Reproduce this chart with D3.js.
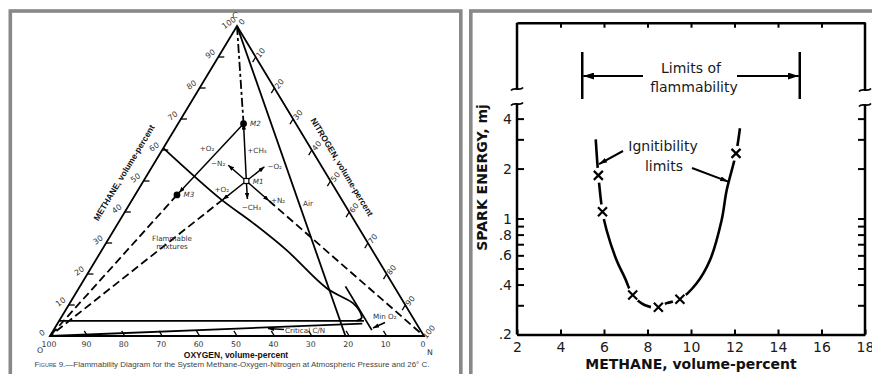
<!DOCTYPE html>
<html>
<head>
<meta charset="utf-8">
<script src="https://cdn.jsdelivr.net/npm/d3@7"></script>
<style>
  html, body { margin: 0; padding: 0; background: #fff; }
  svg { display: block; }
</style>
</head>
<body>
<div id="chart"></div>
<script>
// ---------- LEFT PANEL DATA (volume-percent) ----------
const ternaryTicks = [10, 20, 30, 40, 50, 60, 70, 80, 90];
const ternaryLabels = [0, 10, 20, 30, 40, 50, 60, 70, 80, 90, 100];
// flammability boundary, [methane, nitrogen]
const upperLimit = [[60.6, 0], [44.4, 23.2], [36.5, 36.0], [27.7, 49.4], [15.4, 66.3], [10.6, 75.7], [7.8, 79.0], [5.8, 80.4], [4.9, 79.5]];
const lowerLimit = [[4.9, 0], [4.9, 81.5]];
const criticalLine = [[0, 0], [4.0, 81.5]];
const minO2Line = [[16, 71], [1.9, 85.1]];
const airLine = [[100, 0], [0, 79]];
// mixtures
const mixNames = ['M1', 'M2', 'M3'];
const mixMethane = [50, 68.5, 45.5];
const mixNitrogen = [27.5, 17.5, 11.2];

// ---------- RIGHT PANEL DATA ----------
const xTicks = [2, 4, 6, 8, 10, 12, 14, 16, 18];
const yTicks = [0.2, 0.3, 0.4, 0.5, 0.6, 0.7, 0.8, 0.9, 1, 2, 3, 4];
const yTickLabels = ['.2', '', '.4', '', '.6', '', '.8', '', '1', '2', '', '4'];
const curveMethane = [5.62, 5.74, 5.93, 6.12, 6.58, 6.97, 7.32, 7.89, 8.5, 8.88, 9.49, 10.26, 10.87, 11.41, 11.64, 12.07, 12.25];
const curveEnergy = [3.0, 1.82, 1.1, 0.85, 0.56, 0.436, 0.346, 0.30, 0.292, 0.309, 0.326, 0.407, 0.56, 0.98, 1.48, 2.47, 3.5];
const sparkMethane = [5.74, 5.93, 7.32, 8.5, 9.49, 12.07];
const sparkEnergy = [1.82, 1.1, 0.346, 0.292, 0.326, 2.47];
const flammLimits = [5, 15];
const ignitPointers = [[5.77, 2.13], [11.71, 1.67]];

const svg = d3.select('#chart').append('svg')
  .attr('width', 872).attr('height', 374)
  .style('font-family', "'DejaVu Sans', Verdana, sans-serif");

// ----------- MARKERS ------------
const defs = svg.append('defs');
function addArrow(id, len, wid) {
  defs.append('marker').attr('id', id)
    .attr('viewBox', `0 ${-wid / 2} ${len} ${wid}`)
    .attr('refX', len).attr('refY', 0)
    .attr('markerWidth', len).attr('markerHeight', wid)
    .attr('markerUnits', 'userSpaceOnUse').attr('orient', 'auto')
    .append('path').attr('d', `M0,${-wid / 2}L${len},0L0,${wid / 2}Z`).attr('fill', '#000');
}
addArrow('arrowSmall', 6, 4.5);
addArrow('arrowMid', 8, 5);
addArrow('arrowBig', 11, 7);

// ----------- FRAMES ------------
svg.append('rect').attr('x', 10.3).attr('y', 11).attr('width', 450.5).attr('height', 390)
  .attr('fill', 'none').attr('stroke', '#888').attr('stroke-width', 3.6);
svg.append('rect').attr('x', 470.8).attr('y', 11).attr('width', 420).attr('height', 390)
  .attr('fill', 'none').attr('stroke', '#888').attr('stroke-width', 3.6);

// =========== LEFT PANEL: TERNARY ===========
const vO = [50, 336], vC = [237, 26], vN = [424, 336];
const ternY = d3.scaleLinear().domain([0, 100]).range([vO[1], vC[1]]);
const ternShift = d3.scaleLinear().domain([0, 100]).range([0, vC[0] - vO[0]]);
const ternX = d3.scaleLinear().domain([0, 100]).range([vO[0], vN[0]]);
const tern = (ch4, n2) => [ternX(n2) + ternShift(ch4), ternY(ch4)];
const unit = (a, b) => { const dx = b[0] - a[0], dy = b[1] - a[1], l = Math.hypot(dx, dy); return [dx / l, dy / l]; };
const along = (p, u, d) => [p[0] + u[0] * d, p[1] + u[1] * d];

const tg = svg.append('g').attr('class', 'ternary');
const pline = d3.line();

// triangle
tg.append('path').attr('d', pline([tern(0, 0), tern(100, 0), tern(0, 100)]) + 'Z')
  .attr('fill', 'none').attr('stroke', '#000').attr('stroke-width', 1.8).attr('stroke-linejoin', 'miter');

// ticks
const dirMeth = [1, 0], dirOxy = unit(vN, vC), dirNit = unit(vC, vO);
ternaryTicks.forEach(t => {
  [[tern(t, 0), dirMeth], [tern(0, 100 - t), dirOxy], [tern(100 - t, t), dirNit]].forEach(([p, u]) => {
    tg.append('path').attr('d', pline([p, along(p, u, 6)]))
      .attr('stroke', '#000').attr('stroke-width', 1.3);
  });
});

// tick labels
const tickText = { 'font-size': 7.8, fill: '#333', 'text-anchor': 'middle', 'dominant-baseline': 'central' };
function styled(sel, o) { Object.entries(o).forEach(([k, v]) => sel.attr(k, v)); return sel; }
ternaryLabels.forEach(t => {
  const pm = tern(t, 0);
  styled(tg.append('text'), tickText).attr('transform', `translate(${pm[0] - 8},${pm[1] - 3}) rotate(-35)`).text(t);
  const pn = tern(100 - t, t);
  styled(tg.append('text'), tickText).attr('transform', `translate(${pn[0] + 5},${pn[1] - 4}) rotate(-50)`).text(t);
  const po = tern(0, 100 - t);
  styled(tg.append('text'), tickText).attr('x', po[0] - 1).attr('y', po[1] + 8).text(t);
});
// vertex letters
[['C', tern(100, 0), -2, -11], ['O', tern(0, 0), -10, 14], ['N', tern(0, 100), 6, 16]].forEach(([s, p, dx, dy]) => {
  styled(tg.append('text'), tickText).attr('x', p[0] + dx).attr('y', p[1] + dy).text(s);
});

// axis titles
const titleText = { 'font-size': 8.5, 'font-weight': 'bold', 'font-family': "'Liberation Sans', Arial, sans-serif",
  fill: '#111', 'text-anchor': 'middle', 'dominant-baseline': 'central' };
{
  const mid = tern(50, 0);
  const nrm = [-0.856, -0.516];
  styled(tg.append('text'), titleText)
    .attr('transform', `translate(${mid[0] + nrm[0] * 21 - 0.516 * 3},${mid[1] + nrm[1] * 21 + 0.856 * 3}) rotate(-58.9)`)
    .text('METHANE, volume-percent');
  const midR = tern(50, 50);
  styled(tg.append('text'), titleText)
    .attr('transform', `translate(${midR[0] + 0.856 * 17 - 0.516 * 6},${midR[1] - 0.516 * 17 - 0.856 * 6}) rotate(58.9)`)
    .text('NITROGEN, volume-percent');
  styled(tg.append('text'), titleText).attr('x', 236).attr('y', 355).text('OXYGEN, volume-percent');
}

// caption
const cap = tg.append('text').attr('x', 232).attr('y', 367).attr('text-anchor', 'middle')
  .attr('font-size', 7.4).attr('fill', '#444').attr('font-family', "'Liberation Sans', Arial, sans-serif")
  .attr('textLength', 395).attr('lengthAdjust', 'spacingAndGlyphs');
cap.append('tspan').style('font-variant', 'small-caps').text('Figure');
cap.append('tspan').text(' 9.—Flammability Diagram for the System Methane-Oxygen-Nitrogen at Atmospheric Pressure and 26° C.');

// boundary lines
const smooth = d3.line().curve(d3.curveCatmullRom.alpha(0.5));
const solid = (d, w) => tg.append('path').attr('d', d).attr('fill', 'none').attr('stroke', '#000').attr('stroke-width', w || 1.8);
solid(smooth(upperLimit.map(d => tern(d[0], d[1]))));
solid(pline(lowerLimit.map(d => tern(d[0], d[1]))));
solid(pline(criticalLine.map(d => tern(d[0], d[1]))));
solid(pline(minO2Line.map(d => tern(d[0], d[1]))));
solid(pline(airLine.map(d => tern(d[0], d[1]))));

// mixtures and composition vectors
const mix = mixNames.map((n, i) => tern(mixMethane[i], mixNitrogen[i]));
const [M1, M2, M3] = mix;
const dashed = (a, b, da) => tg.append('path').attr('d', pline([a, b])).attr('fill', 'none')
  .attr('stroke', '#000').attr('stroke-width', 1.8).attr('stroke-dasharray', da || '8,4');
const arrow = (a, b) => tg.append('path').attr('d', pline([a, b])).attr('fill', 'none')
  .attr('stroke', '#000').attr('stroke-width', 1.5).attr('marker-end', 'url(#arrowSmall)');

dashed(vC, M2, '9,3,3,3');
dashed(M3, vO);
const tipO = along(M1, unit(M1, vO), 30);
const tipN = along(M1, unit(M1, vN), 30);
dashed(tipO, vO);
dashed(tipN, vN);
arrow(M1, M2);
arrow(M2, along(M3, unit(M3, M2), 3));
arrow(M1, tipO);
arrow(M1, tipN);
const tipCm = along(M1, unit(vC, M1), 18);
const tipNm = along(M1, unit(vN, M1), 24);
const tipOm = along(M1, unit(vO, M1), 23);
arrow(M1, tipCm);
arrow(M1, tipNm);
arrow(M1, tipOm);

tg.selectAll('.mixdot').data([M2, M3]).enter().append('circle')
  .attr('cx', d => d[0]).attr('cy', d => d[1]).attr('r', 3.4).attr('fill', '#000');
tg.append('rect').attr('x', M1[0] - 2.5).attr('y', M1[1] - 2.5).attr('width', 5).attr('height', 5)
  .attr('fill', '#fff').attr('stroke', '#000').attr('stroke-width', 1.2);

const smallText = { 'font-size': 7.2, fill: '#333', 'dominant-baseline': 'central' };
mix.forEach((p, i) => {
  styled(tg.append('text'), smallText).attr('x', p[0] + 6.5).attr('y', p[1]).attr('font-style', 'italic').text(mixNames[i]);
});
const vecLabels = [
  ['+CH₄', M1[0] + 1, 150, 'start'],
  ['−CH₄', tipCm[0] + 4, tipCm[1] + 9, 'middle'],
  ['−N₂', tipNm[0] - 3, tipNm[1] - 2, 'end'],
  ['−O₂', tipOm[0] + 3, tipOm[1], 'start'],
  ['+O₂', tipO[0] - 1, tipO[1] - 10, 'middle'],
  ['+N₂', tipN[0] + 2, tipN[1], 'start'],
  ['+O₂', 207, 148, 'middle']
];
vecLabels.forEach(([s, x, y, a]) => {
  styled(tg.append('text'), smallText).attr('x', x).attr('y', y).attr('text-anchor', a).text(s);
});
styled(tg.append('text'), smallText).attr('x', 303).attr('y', 203).text('Air');
styled(tg.append('text'), smallText).attr('x', 172).attr('y', 238).attr('text-anchor', 'middle').text('Flammable');
styled(tg.append('text'), smallText).attr('x', 172).attr('y', 246.5).attr('text-anchor', 'middle').text('mixtures');
styled(tg.append('text'), smallText).attr('x', 373).attr('y', 316.5).text('Min O₂');
styled(tg.append('text'), smallText).attr('x', 285).attr('y', 330).text('Critical C/N');
arrow([385, 322.5], [373, 328]);
arrow([284, 329.5], [268, 328.5]);

// =========== RIGHT PANEL: SPARK ENERGY ===========
const x = d3.scaleLinear().domain([2, 18]).range([517, 865]);
const y = d3.scaleLog().domain([0.2, 4.9]).range([334.5, 104]);
const plotTop = 22.7, breakTop = 89, breakBot = 104;
const rg = svg.append('g').attr('class', 'spark');

const axisFont = g => g.attr('font-size', 14).attr('font-family', "'DejaVu Sans', Verdana, sans-serif")
  .call(s => s.selectAll('text').attr('fill', '#1a1a1a'))
  .call(s => s.selectAll('line').attr('stroke-width', 2));

rg.append('g').attr('transform', `translate(0,${y(0.2)})`)
  .call(d3.axisBottom(x).tickValues(xTicks).tickSize(-5).tickSizeOuter(0).tickPadding(8).tickFormat(d3.format('d')))
  .call(g => g.select('.domain').attr('stroke-width', 2.5))
  .call(axisFont);
rg.append('g').attr('transform', `translate(0,${plotTop})`)
  .call(d3.axisTop(x).tickValues(xTicks.slice(1, -1)).tickSize(-5).tickSizeOuter(0).tickFormat(''))
  .call(g => g.select('.domain').attr('stroke-width', 2.5))
  .call(axisFont);
rg.append('g').attr('transform', `translate(${x(2)},0)`)
  .call(d3.axisLeft(y).tickValues(yTicks).tickSize(-7).tickPadding(5).tickFormat((d, i) => yTickLabels[i]))
  .call(g => g.select('.domain').remove())
  .call(axisFont);
rg.append('g').attr('transform', `translate(${x(18)},0)`)
  .call(d3.axisRight(y).tickValues(yTicks.slice(1)).tickSize(-7).tickFormat(''))
  .call(g => g.select('.domain').remove())
  .call(axisFont);

// broken vertical axes
[x(2), x(18)].forEach((ax, k) => {
  const b1 = breakTop + k, b2 = breakBot + k;
  const st = { fill: 'none', stroke: '#000', 'stroke-width': 2.5 };
  styled(rg.append('path'), st).attr('d', `M${ax},${plotTop}L${ax},${b1}`);
  styled(rg.append('path'), st).attr('d', `M${ax},${b2}L${ax},${y(0.2)}`);
  [b1, b2].forEach(b => {
    styled(rg.append('path'), st).attr('stroke-width', 1.8)
      .attr('d', `M${ax - 6},${b + 1.5}C${ax - 3},${b - 2.5} ${ax + 3},${b + 2.5} ${ax + 6},${b - 1.5}`);
  });
});

// limits of flammability
flammLimits.forEach(v => {
  rg.append('path').attr('d', `M${x(v)},52L${x(v)},99`).attr('stroke', '#000').attr('stroke-width', 2.5);
});
rg.append('path').attr('d', `M643,76L${x(flammLimits[0]) + 1},76`).attr('stroke', '#000').attr('stroke-width', 2)
  .attr('marker-end', 'url(#arrowBig)');
rg.append('path').attr('d', `M737,76L${x(flammLimits[1]) - 1},76`).attr('stroke', '#000').attr('stroke-width', 2)
  .attr('marker-end', 'url(#arrowBig)');
const annText = { 'font-size': 14, fill: '#1a1a1a', 'text-anchor': 'middle' };
styled(rg.append('text'), annText).attr('x', x(10)).attr('y', 73).text('Limits of');
styled(rg.append('text'), annText).attr('x', x(10) + 3).attr('y', 92).text('flammability');

// curve
const curveData = curveMethane.map((m, i) => [m, curveEnergy[i]]);
rg.append('path').datum(curveData)
  .attr('d', d3.line().x(d => x(d[0])).y(d => y(d[1])).curve(d3.curveCatmullRom.alpha(0.5)))
  .attr('fill', 'none').attr('stroke', '#000').attr('stroke-width', 2.6);

const pts = sparkMethane.map((m, i) => [m, sparkEnergy[i]]);
rg.selectAll('.gap').data(pts).enter().append('circle')
  .attr('cx', d => x(d[0])).attr('cy', d => y(d[1])).attr('r', 7.5).attr('fill', '#fff');
rg.selectAll('.cross').data(pts).enter().append('path')
  .attr('d', d => { const cx = x(d[0]), cy = y(d[1]), s = 4.5;
    return `M${cx - s},${cy - s}L${cx + s},${cy + s}M${cx - s},${cy + s}L${cx + s},${cy - s}`; })
  .attr('stroke', '#000').attr('stroke-width', 2.2);

// ignitibility limits
styled(rg.append('text'), annText).attr('x', 663).attr('y', 151).text('Ignitibility');
styled(rg.append('text'), annText).attr('x', 664).attr('y', 170.5).text('limits');
[[623, 151], [692, 168]].forEach((s, i) => {
  const p = ignitPointers[i];
  rg.append('path').attr('d', pline([s, [x(p[0]), y(p[1])]]))
    .attr('stroke', '#000').attr('stroke-width', 2).attr('marker-end', 'url(#arrowMid)');
});

// axis titles
const boldTitle = { 'font-size': 14, 'font-weight': 'bold', fill: '#111', 'text-anchor': 'middle' };
styled(rg.append('text'), boldTitle).attr('x', x(10)).attr('y', 369).text('METHANE, volume-percent');
styled(rg.append('text'), boldTitle).attr('transform', 'translate(487,177.5) rotate(-90)').text('SPARK ENERGY, mj');
</script>
</body>
</html>
